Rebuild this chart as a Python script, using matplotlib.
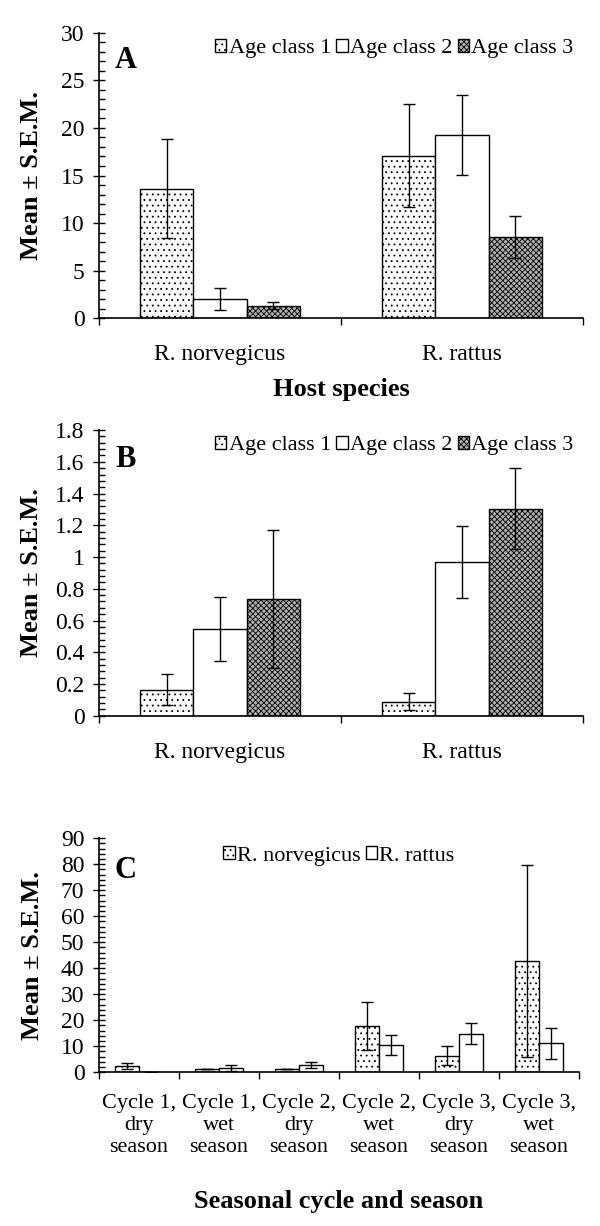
import numpy as np
import matplotlib
matplotlib.use('Agg')
import matplotlib.pyplot as plt
from matplotlib.ticker import MultipleLocator, FixedLocator

plt.rcParams['font.family'] = ['Liberation Serif', 'DejaVu Serif']
plt.rcParams['hatch.linewidth'] = 0.6

# Panel A
hosts = ['R. norvegicus', 'R. rattus']
a_age1 = [13.6, 17.1]
a_age1_err = [5.2, 5.4]
a_age2 = [2.0, 19.3]
a_age2_err = [1.15, 4.2]
a_age3 = [1.3, 8.5]
a_age3_err = [0.4, 2.2]

# Panel B
b_age1 = [0.165, 0.088]
b_age1_err = [0.098, 0.053]
b_age2 = [0.548, 0.968]
b_age2_err = [0.2, 0.225]
b_age3 = [0.735, 1.305]
b_age3_err = [0.435, 0.255]

# Panel C
seasons = ['Cycle 1,\ndry\nseason', 'Cycle 1,\nwet\nseason', 'Cycle 2,\ndry\nseason',
           'Cycle 2,\nwet\nseason', 'Cycle 3,\ndry\nseason', 'Cycle 3,\nwet\nseason']
c_norv = [2.3, 1.1, 1.1, 17.9, 6.4, 42.8]
c_norv_err = [1.1, 0, 0, 9.3, 3.7, 37.0]
c_ratt = [0, 1.7, 2.7, 10.5, 14.8, 11.1]
c_ratt_err = [0, 1.1, 1.2, 4.0, 4.0, 6.0]

age_labels = ['Age class 1', 'Age class 2', 'Age class 3']
styles = [dict(facecolor='white', hatch='...'),
          dict(facecolor='white', hatch=None),
          dict(facecolor='#b0b0b0', hatch='xxxxxx')]
err_kw = dict(ecolor='black', elinewidth=1.0, capsize=4, capthick=1.0)


def style_axes(ax, ncat, ymax, major, minor, labels, label_size, xpad):
    for s in ['top', 'right']:
        ax.spines[s].set_visible(False)
    ax.spines['left'].set_linewidth(1.2)
    ax.spines['bottom'].set_linewidth(1.2)
    ax.set_xlim(-0.5, ncat - 0.5)
    ax.set_ylim(0, ymax)
    ax.yaxis.set_major_locator(MultipleLocator(major))
    ax.yaxis.set_minor_locator(MultipleLocator(minor))
    ax.tick_params(axis='y', which='major', direction='inout', length=9, width=1,
                   labelsize=17, pad=6)
    ax.tick_params(axis='y', which='minor', direction='in', length=4.5, width=1)
    ax.xaxis.set_major_locator(FixedLocator(np.arange(ncat + 1) - 0.5))
    ax.xaxis.set_minor_locator(FixedLocator(np.arange(ncat)))
    ax.set_xticklabels([], minor=False)
    ax.set_xticklabels(labels, minor=True, fontsize=label_size)
    ax.tick_params(axis='x', which='major', direction='out', length=5, width=1)
    ax.tick_params(axis='x', which='minor', length=0, pad=xpad)
    ax.set_ylabel('Mean ± S.E.M.', fontsize=19, fontweight='bold')
    ax.yaxis.set_label_coords(-0.115, 0.5)


def age_panel(ax, vals, errs, ymax, major, minor, letter, ly):
    x = np.arange(len(hosts))
    w = 0.22
    for i in range(3):
        ax.bar(x + (i - 1) * w, vals[i], w, yerr=errs[i], edgecolor='black', linewidth=1.0,
               error_kw=err_kw, label=age_labels[i], **styles[i])
    style_axes(ax, len(hosts), ymax, major, minor, hosts, 17, 19)
    ax.text(0.033, ly, letter, transform=ax.transAxes, fontsize=22, fontweight='bold',
            ha='left', va='center')
    ax.legend(loc='center', bbox_to_anchor=(0.61, 0.945), ncol=3, frameon=False, fontsize=16,
              handlelength=0.5, handleheight=0.5, handletextpad=0.1, columnspacing=0.25,
              borderpad=0, borderaxespad=0)


fig = plt.figure(figsize=(6, 12.26), dpi=100)

axA = fig.add_axes([0.165, 0.7406, 0.8067, 0.2325])
age_panel(axA, [a_age1, a_age2, a_age3], [a_age1_err, a_age2_err, a_age3_err],
          30, 5, 1, 'A', 0.905)
axA.set_xlabel('Host species', fontsize=19, fontweight='bold', labelpad=9)

axB = fig.add_axes([0.165, 0.4162, 0.8067, 0.233])
age_panel(axB, [b_age1, b_age2, b_age3], [b_age1_err, b_age2_err, b_age3_err],
          1.8, 0.2, 0.04, 'B', 0.898)
axB.yaxis.set_major_formatter(matplotlib.ticker.FuncFormatter(lambda v, p: ('%g' % round(v, 2))))

axC = fig.add_axes([0.165, 0.1254, 0.8, 0.1909])
xc = np.arange(len(seasons))
wc = 0.3
axC.bar(xc - wc / 2, c_norv, wc, yerr=c_norv_err, facecolor='white', hatch='...',
        edgecolor='black', linewidth=1.0, error_kw=err_kw, label='R. norvegicus')
axC.bar(xc + wc / 2, c_ratt, wc, yerr=c_ratt_err, facecolor='white',
        edgecolor='black', linewidth=1.0, error_kw=err_kw, label='R. rattus')
style_axes(axC, len(seasons), 90, 10, 2, seasons, 16, 16)
for t in axC.get_xticklabels(minor=True):
    t.set_linespacing(1.2)
axC.text(0.033, 0.864, 'C', transform=axC.transAxes, fontsize=22, fontweight='bold',
         ha='left', va='center')
axC.legend(loc='center', bbox_to_anchor=(0.5, 0.924), ncol=2, frameon=False, fontsize=16,
           handlelength=0.5, handleheight=0.5, handletextpad=0.1, columnspacing=0.25,
           borderpad=0, borderaxespad=0)
axC.set_xlabel('Seasonal cycle and season', fontsize=19, fontweight='bold', labelpad=24)

fig.savefig('out.png', dpi=100)
